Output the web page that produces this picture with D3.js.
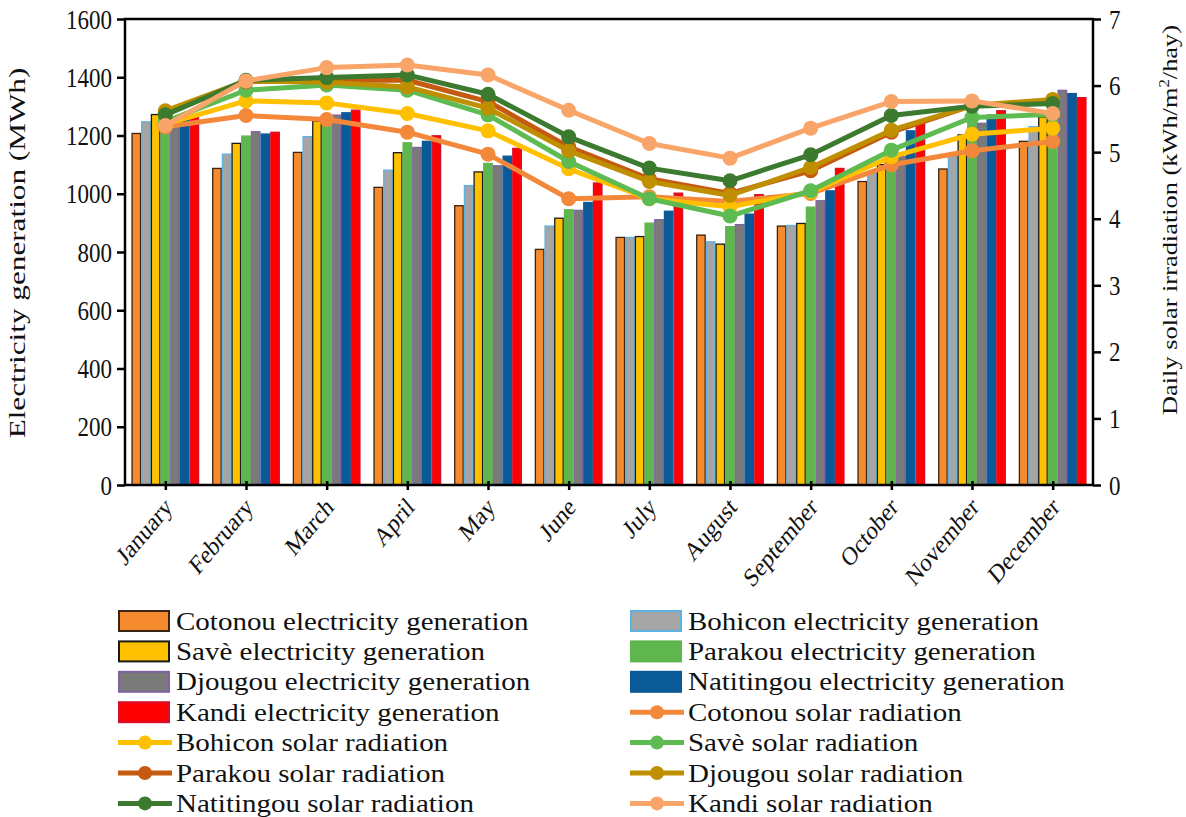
<!DOCTYPE html>
<html>
<head>
<meta charset="utf-8">
<script src="https://cdn.jsdelivr.net/npm/d3@7"></script>
<style>
  body { margin: 0; background: #fff; }
  text { font-family: "Liberation Serif", "Times New Roman", serif; fill: #111; }
</style>
</head>
<body>
<div id="vis"></div>
<script>
const months = ['January', 'February', 'March', 'April', 'May', 'June', 'July', 'August', 'September', 'October', 'November', 'December'];
const cities = ['Cotonou', 'Bohicon', 'Savè', 'Parakou', 'Djougou', 'Natitingou', 'Kandi'];

// electricity generation (MWh)
const genCotonou = [1207, 1087, 1142, 1022, 959, 809, 850, 858, 889, 1042, 1085, 1180];
const genBohicon = [1247, 1136, 1196, 1081, 1028, 889, 850, 835, 891, 1075, 1130, 1230];
const genSave = [1272, 1173, 1250, 1141, 1075, 916, 853, 827, 898, 1100, 1202, 1264];
const genParakou = [1258, 1198, 1255, 1175, 1104, 945, 899, 887, 954, 1120, 1250, 1339];
const genDjougou = [1252, 1213, 1270, 1159, 1096, 943, 911, 894, 976, 1128, 1242, 1355];
const genNatitingou = [1260, 1205, 1278, 1180, 1129, 970, 940, 930, 1010, 1216, 1270, 1344];
const genKandi = [1266, 1211, 1287, 1199, 1156, 1037, 1002, 997, 1087, 1242, 1285, 1330];

// daily solar irradiation (kWh/m2/day)
const radCotonou = [5.38, 5.55, 5.49, 5.30, 4.97, 4.30, 4.33, 4.26, 4.38, 4.81, 5.02, 5.16];
const radBohicon = [5.42, 5.77, 5.74, 5.58, 5.32, 4.75, 4.30, 4.18, 4.40, 4.93, 5.27, 5.36];
const radSave = [5.46, 5.93, 6.01, 5.93, 5.56, 4.86, 4.30, 4.04, 4.42, 5.03, 5.52, 5.57];
const radParakou = [5.58, 6.06, 6.08, 6.08, 5.76, 5.08, 4.60, 4.38, 4.72, 5.30, 5.70, 5.76];
const radDjougou = [5.62, 6.07, 6.05, 5.98, 5.66, 5.02, 4.56, 4.35, 4.77, 5.33, 5.70, 5.79];
const radNatitingou = [5.56, 6.08, 6.12, 6.16, 5.87, 5.23, 4.76, 4.57, 4.96, 5.55, 5.69, 5.73];
const radKandi = [5.40, 6.07, 6.27, 6.31, 6.16, 5.63, 5.13, 4.91, 5.36, 5.76, 5.77, 5.58];

const leftTicks = [0, 200, 400, 600, 800, 1000, 1200, 1400, 1600];
const rightTicks = [0, 1, 2, 3, 4, 5, 6, 7];

const gen = [genCotonou, genBohicon, genSave, genParakou, genDjougou, genNatitingou, genKandi];
const rad = [radCotonou, radBohicon, radSave, radParakou, radDjougou, radNatitingou, radKandi];

const barFill = ['#F58A2E', '#A5A5A5', '#FFC000', '#5FB54E', '#7A7A7A', '#0B5A98', '#FF0000'];
const barStroke = ['#3A2412', '#5DB2E3', '#1a1a1a', '#5FB54E', '#8064A2', '#0B5A98', '#D4102E'];
const lineColor = ['#F4883A', '#FFC000', '#5DBB52', '#C55A11', '#BF8F00', '#3B7A2F', '#F9A56A'];

const W = 1186, H = 817;
const plot = { left: 125, right: 1093, top: 19, bottom: 485 };
const SY = 1.2; // the original figure is stretched a little vertically, text too

const svg = d3.select('#vis').append('svg')
  .attr('width', W)
  .attr('height', H);

const x0 = d3.scaleBand()
  .domain(months)
  .range([plot.left, plot.right])
  .paddingInner(0.16)
  .paddingOuter(0.08);
const x1 = d3.scaleBand()
  .domain(cities)
  .range([0, x0.bandwidth()]);
const yL = d3.scaleLinear().domain([0, 1600]).range([plot.bottom, plot.top]);
const yR = d3.scaleLinear().domain([0, 7]).range([plot.bottom, plot.top]);
const cx = m => x0(m) + x0.bandwidth() / 2;

// bars
const groups = svg.append('g').selectAll('g')
  .data(months)
  .join('g')
    .attr('transform', m => 'translate(' + x0(m) + ',0)');

groups.selectAll('rect')
  .data((m, i) => cities.map((c, k) => ({ k: k, c: c, v: gen[k][i] })))
  .join('rect')
    .attr('x', d => x1(d.c) + 0.6)
    .attr('width', x1.bandwidth() - 1.2)
    .attr('y', d => yL(d.v))
    .attr('height', d => yL(0) - yL(d.v))
    .attr('fill', d => barFill[d.k])
    .attr('stroke', d => barStroke[d.k])
    .attr('stroke-width', 1.3);

// lines
const line = d3.line().x((v, i) => cx(months[i])).y(v => yR(v));
rad.forEach((series, k) => {
  svg.append('path')
    .datum(series)
    .attr('d', line)
    .attr('fill', 'none')
    .attr('stroke', lineColor[k])
    .attr('stroke-width', 5)
    .attr('stroke-linejoin', 'round');
  svg.append('g').selectAll('circle')
    .data(series)
    .join('circle')
      .attr('cx', (v, i) => cx(months[i]))
      .attr('cy', v => yR(v))
      .attr('r', 7.5)
      .attr('fill', lineColor[k]);
});

// frame
svg.append('rect')
  .attr('x', plot.left)
  .attr('y', plot.top)
  .attr('width', plot.right - plot.left)
  .attr('height', plot.bottom - plot.top)
  .attr('fill', 'none')
  .attr('stroke', '#000')
  .attr('stroke-width', 2.5);

// axes
const leftAxis = svg.append('g')
  .attr('transform', 'translate(' + plot.left + ',0)')
  .call(d3.axisLeft(yL).tickValues(leftTicks).tickFormat(d3.format('d')).tickSize(8));
const rightAxis = svg.append('g')
  .attr('transform', 'translate(' + plot.right + ',0)')
  .call(d3.axisRight(yR).tickValues(rightTicks).tickFormat(d3.format('d')).tickSize(8));
const bottomAxis = svg.append('g')
  .attr('transform', 'translate(0,' + plot.bottom + ')')
  .call(d3.axisBottom(d3.scalePoint().domain(months).range([cx(months[0]), cx(months[11])])).tickSize(6));

[leftAxis, rightAxis, bottomAxis].forEach(a => {
  a.select('.domain').remove();
  a.selectAll('line').attr('stroke', '#000').attr('stroke-width', 2.5);
  a.selectAll('text')
    .attr('fill', '#111')
    .attr('x', 0)
    .attr('y', 0)
    .style('font-family', '"Liberation Serif", "Times New Roman", serif')
    .style('font-size', '23px');
});
leftAxis.selectAll('text')
  .attr('dy', '0.33em')
  .attr('transform', 'translate(-13,0) scale(1,' + SY + ')');
rightAxis.selectAll('text')
  .attr('dy', '0.33em')
  .attr('transform', 'translate(16,0) scale(1,' + SY + ')');
bottomAxis.selectAll('line').attr('y1', -4).attr('y2', 5);
bottomAxis.selectAll('text')
  .attr('text-anchor', 'end')
  .attr('dy', '0.3em')
  .attr('transform', 'translate(3,18) scale(1,' + SY + ') rotate(-45)')
  .style('font-size', '22px');

// axis titles
svg.append('text')
  .attr('transform', 'translate(25,253) rotate(-90) scale(1.3,1)')
  .attr('text-anchor', 'middle')
  .style('font-size', '24px')
  .text('Electricity generation (MWh)');
const rt = svg.append('text')
  .attr('transform', 'translate(1177,220) rotate(-90) scale(' + SY + ',1)')
  .attr('text-anchor', 'middle')
  .style('font-size', '22px');
rt.append('tspan').text('Daily solar irradiation (kWh/m');
rt.append('tspan').attr('dy', -8).style('font-size', '14px').text('2');
rt.append('tspan').attr('dy', 8).text('/hay)');

// legend
const legendItems = [];
cities.forEach((c, k) => legendItems.push({ type: 'bar', k: k, label: c + ' electricity generation' }));
cities.forEach((c, k) => legendItems.push({ type: 'line', k: k, label: c + ' solar radiation' }));

const legend = svg.append('g').selectAll('g')
  .data(legendItems)
  .join('g')
    .attr('transform', (d, i) => 'translate(' + (i % 2 === 0 ? 118 : 630) + ',' + (621 + Math.floor(i / 2) * 30.4) + ')');

legend.filter(d => d.type === 'bar').append('rect')
  .attr('x', 1)
  .attr('y', -10)
  .attr('width', 50)
  .attr('height', 20)
  .attr('fill', d => barFill[d.k])
  .attr('stroke', d => barStroke[d.k])
  .attr('stroke-width', 2);
legend.filter(d => d.type === 'line').append('line')
  .attr('x1', 0).attr('x2', 54)
  .attr('stroke', d => lineColor[d.k])
  .attr('stroke-width', 5);
legend.filter(d => d.type === 'line').append('circle')
  .attr('cx', 27)
  .attr('r', 7)
  .attr('fill', d => lineColor[d.k]);
legend.append('text')
  .attr('transform', 'translate(58,0) scale(1.16,1.04)')
  .attr('dy', '0.33em')
  .style('font-size', '25px')
  .text(d => d.label);
</script>
</body>
</html>
